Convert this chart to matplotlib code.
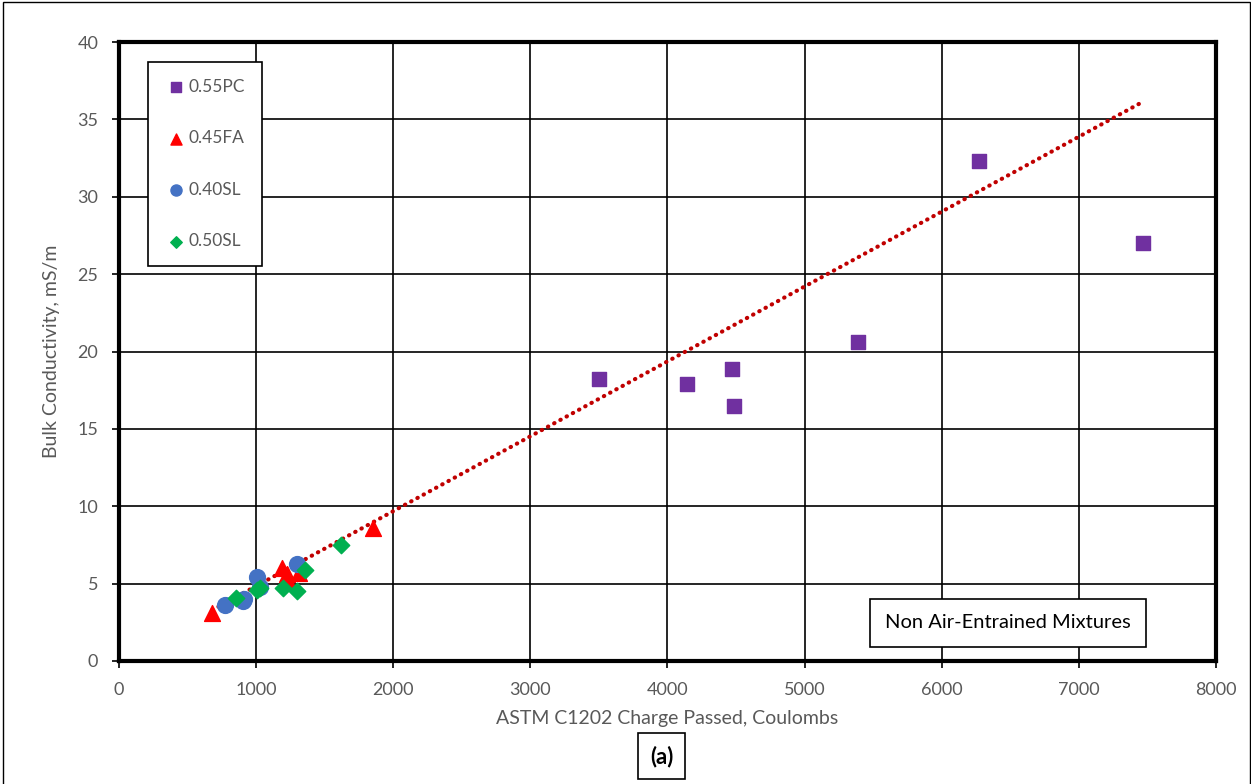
import numpy as np
import matplotlib.pyplot as plt
from matplotlib.patches import Rectangle

plt.rcParams['font.family'] = ['Lato', 'DejaVu Sans']

# data
pc_x = [3500, 4140, 4470, 4485, 5390, 6270, 7470]
pc_y = [18.2, 17.9, 18.9, 16.5, 20.6, 32.3, 27.0]

fa_x = [680, 1190, 1225, 1230, 1310, 1850]
fa_y = [3.1, 6.0, 5.6, 5.2, 5.7, 8.6]

sl40_x = [775, 905, 915, 1010, 1030, 1300]
sl40_y = [3.6, 3.9, 4.0, 5.4, 4.8, 6.3]

sl50_x = [855, 1010, 1030, 1195, 1300, 1360, 1620]
sl50_y = [4.1, 4.6, 4.7, 4.7, 4.5, 5.9, 7.5]

# trendline as drawn on the chart
trend_slope = 0.00484
trend_intercept = 0.0

x_ticks = [0, 1000, 2000, 3000, 4000, 5000, 6000, 7000, 8000]
y_ticks = [0, 5, 10, 15, 20, 25, 30, 35, 40]

gray = '#595959'

fig = plt.figure(figsize=(12.51, 7.84), dpi=100)
ax = fig.add_axes([0.0951, 0.1569, 0.8769, 0.7895])

all_x = np.array(pc_x + fa_x + sl40_x + sl50_x)
tx = np.array([all_x.min(), all_x.max()])
ax.plot(tx, trend_slope * tx + trend_intercept, color='#C00000', lw=3,
        ls=(0, (0.1, 1.6)), dash_capstyle='round', zorder=2)

ax.scatter(pc_x, pc_y, marker='s', s=110, color='#7030A0', label='0.55PC', zorder=3)
ax.scatter(fa_x, fa_y, marker='^', s=130, color='#FF0000', label='0.45FA', zorder=3)
ax.scatter(sl40_x, sl40_y, marker='o', s=130, color='#4472C4', label='0.40SL', zorder=3)
ax.scatter(sl50_x, sl50_y, marker='D', s=70, color='#00B050', label='0.50SL', zorder=3)

ax.set_xlim(0, 8000)
ax.set_ylim(0, 40)
ax.set_xticks(x_ticks)
ax.set_yticks(y_ticks)
ax.grid(True, color='black', lw=1.2)
ax.set_axisbelow(True)
for s in ax.spines.values():
    s.set_linewidth(3)
ax.tick_params(labelsize=13, labelcolor=gray, length=5, width=1.2, pad=10)

ax.set_xlabel('ASTM C1202 Charge Passed, Coulombs', fontsize=14, color=gray, labelpad=9)
ax.set_ylabel('Bulk Conductivity, mS/m', fontsize=14, color=gray, labelpad=12)

leg = ax.legend(loc='upper left', bbox_to_anchor=(0.0264, 0.9677), borderaxespad=0,
                fontsize=12.5, labelcolor=gray, frameon=True, fancybox=False,
                edgecolor='black', handletextpad=0.1, labelspacing=2.05,
                borderpad=0.95, handlelength=1.3, scatterpoints=1, markerscale=0.7)
leg.get_frame().set_linewidth(1.2)
leg.get_frame().set_alpha(1)

ax.text(0.81, 0.0614, 'Non Air-Entrained Mixtures', transform=ax.transAxes,
        ha='center', va='center', fontsize=14.5, color='black',
        bbox=dict(boxstyle='square,pad=0.75', fc='white', ec='black', lw=1.2))

fig.text(0.5288, 0.0357, '(a)', ha='center', va='center', fontsize=16, fontweight='bold',
         bbox=dict(boxstyle='square,pad=0.55', fc='white', ec='black', lw=1.2))

fig.patches.append(Rectangle((0.002, -0.01), 0.997, 1.008, transform=fig.transFigure,
                             fill=False, ec='black', lw=1))

fig.savefig('out.png', dpi=100)
